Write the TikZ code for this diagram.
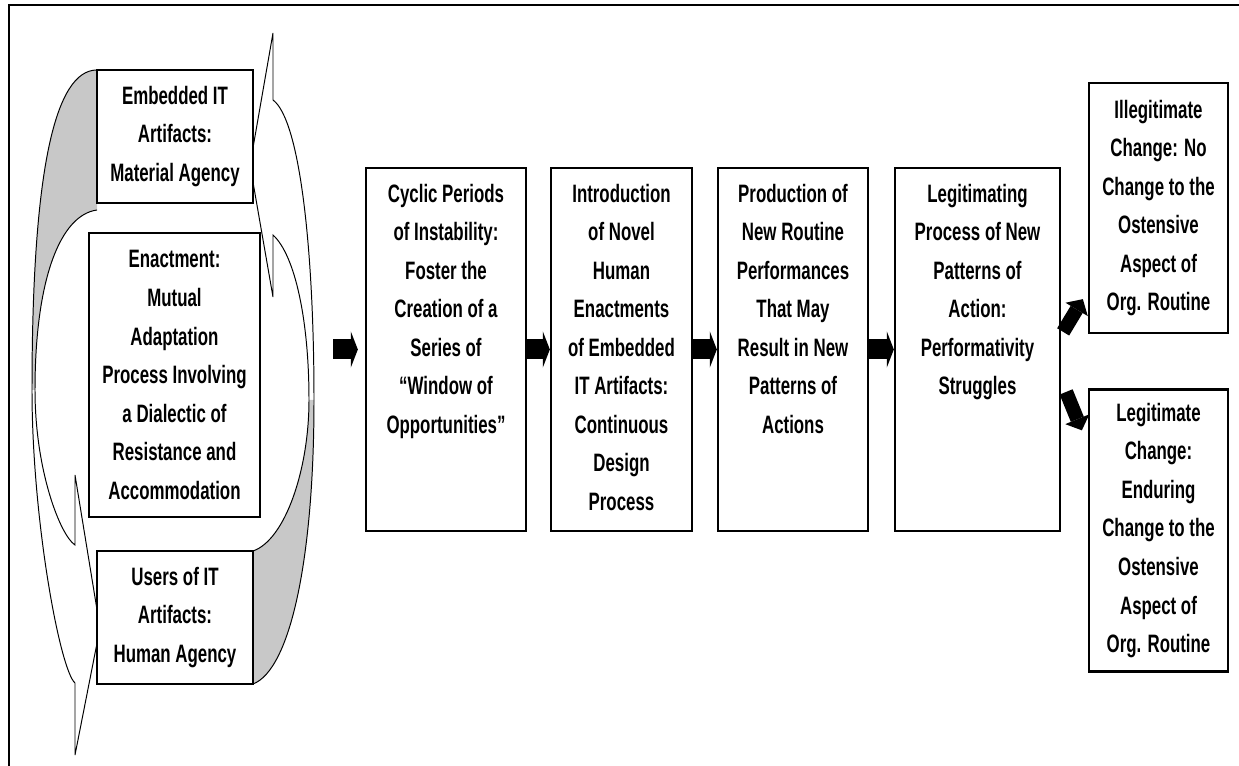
\documentclass[tikz,border=0pt]{standalone}
\usepackage{fontspec}
\setmainfont{Liberation Sans}[FakeStretch=0.67]
\usetikzlibrary{arrows.meta, positioning}
\definecolor{shadegray}{HTML}{C8C8C8}

\begin{document}
\begin{tikzpicture}[
    x=0.025cm, y=-0.025cm,
    box/.style={draw, line width=1.6pt, fill=white, inner sep=0pt},
    txt/.style={align=center, inner sep=0pt, font=\bfseries\fontsize{17.9}{27.4}\selectfont},
    flow/.style={draw, line width=0.5cm, -{Triangle[length=0.175cm, width=0.9cm, line width=0pt]}},
    turn/.style={draw, line width=0.35cm, -{Triangle[length=0.3cm, width=0.65cm, line width=0pt]}},
    loopline/.style={draw, line width=0.7pt}
]
    \useasboundingbox (0,0) rectangle (1239,766);

    % Outer frame (only top and left edge show)
    \draw[line width=1.6pt] (9,780) -- (9,5) -- (1250,5);

    % Curved arrows round the agency boxes
    \fill[shadegray] (97,70) .. controls (55,70) and (32,170) .. (32,390) -- (35,390) .. controls (35,280) and (60,215) .. (97,210) -- cycle;
    \draw[loopline] (97,70) .. controls (55,70) and (32,170) .. (32,390) .. controls (32,520) and (60,670) .. (75,683) -- (75,755) -- (100,628) -- (75,475) -- (75,545) .. controls (60,535) and (35,470) .. (35,390) .. controls (35,280) and (60,215) .. (97,210);
    \fill[shadegray] (309,400) .. controls (309,470) and (285,540) .. (253,551) -- (253,684) .. controls (290,670) and (314,560) .. (314,400) -- cycle;
    \draw[loopline] (253,684) .. controls (290,670) and (314,560) .. (314,400) .. controls (314,250) and (300,120) .. (273,100) -- (273,33) -- (250,165) -- (273,297) -- (273,235) .. controls (295,255) and (309,320) .. (309,400) .. controls (309,470) and (285,540) .. (253,551);

    % Agency boxes
    \node[box, txt, minimum width=3.9cm, minimum height=3.325cm] (embed) at (175,136.5) {Embedded IT\\Artifacts:\\Material Agency};
    \node[box, txt, minimum width=4.275cm, minimum height=7.1cm] (enact) at (174.5,375) {Enactment:\\Mutual\\Adaptation\\Process Involving\\a Dialectic of\\Resistance and\\Accommodation};
    \node[box, txt, minimum width=3.9cm, minimum height=3.325cm] (users) at (175,617.5) {Users of IT\\Artifacts:\\Human Agency};

    % Process boxes
    \node[box, minimum width=4cm, minimum height=9.075cm] (cyclic) at (446,349.5) {};
    \node[txt, below=0.42cm of cyclic.north] (cyclictext) {Cyclic Periods\\of Instability:\\Foster the\\Creation of a\\Series of\\“Window of\\Opportunities”};
    \node[box, minimum width=3.525cm, minimum height=9.075cm] (intro) at (621.5,349.5) {};
    \node[txt, below=0.42cm of intro.north] (introtext) {Introduction\\of Novel\\Human\\Enactments\\of Embedded\\IT Artifacts:\\Continuous\\Design\\Process};
    \node[box, minimum width=3.75cm, minimum height=9.075cm] (prod) at (793,349.5) {};
    \node[txt, below=0.42cm of prod.north] (prodtext) {Production of\\New Routine\\Performances\\That May\\Result in New\\Patterns of\\Actions};
    \node[box, minimum width=4.125cm, minimum height=9.075cm] (legit) at (977.5,349.5) {};
    \node[txt, below=0.42cm of legit.north] (legittext) {Legitimating\\Process of New\\Patterns of\\Action:\\Performativity\\Struggles};

    % Outcome boxes
    \node[box, txt, minimum width=3.475cm, minimum height=6.25cm] (illeg) at (1158.5,208) {Illegitimate\\Change: No\\Change to the\\Ostensive\\Aspect of\\Org. Routine};
    \node[box, txt, minimum width=3.475cm, minimum height=7.05cm] (legch) at (1158.5,530.5) {Legitimate\\Change:\\Enduring\\Change to the\\Ostensive\\Aspect of\\Org. Routine};

    % Block arrows
    \coordinate (start) at (333,349.5);
    \draw[flow, shorten >=0.175cm] (start) -- (cyclic.west);
    \draw[flow] (cyclic.east) -- (intro.west);
    \draw[flow] (intro.east) -- (prod.west);
    \draw[flow] (prod.east) -- (legit.west);
    \draw[turn] ([xshift=0.05cm, yshift=0.44cm]legit.east) -- ([xshift=-0.125cm, yshift=0.875cm]illeg.south west);
    \draw[turn] ([xshift=0.125cm, yshift=-1.06cm]legit.east) -- ([xshift=-0.15cm, yshift=-1.05cm]legch.north west);
\end{tikzpicture}
\end{document}
